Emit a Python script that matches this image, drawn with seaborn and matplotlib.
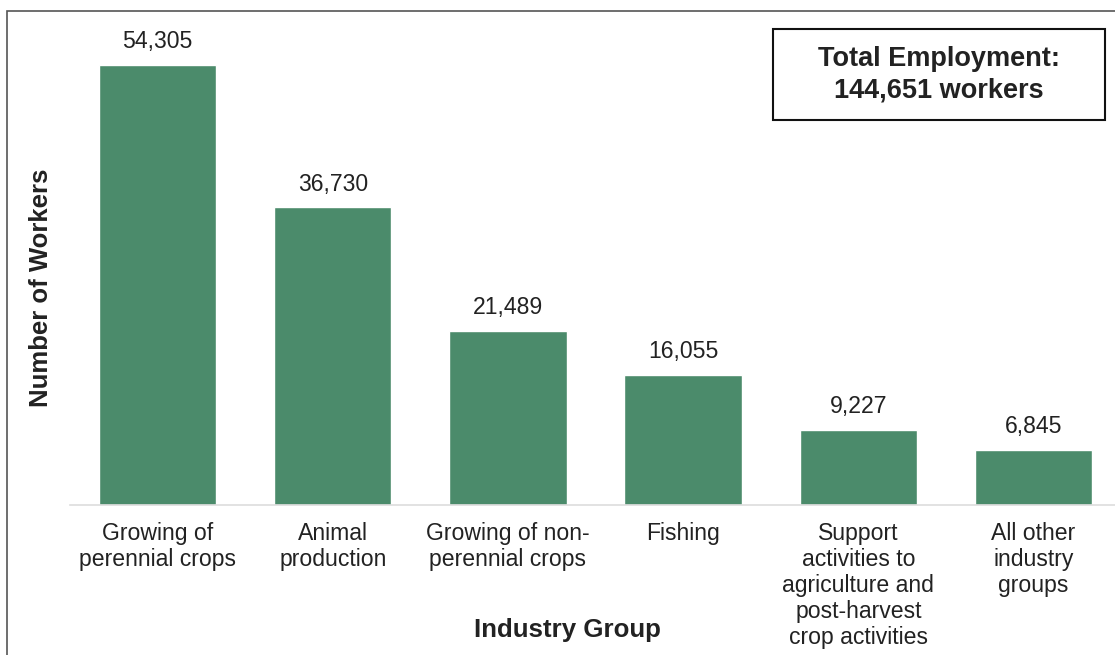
import matplotlib
matplotlib.use('Agg')
import matplotlib.pyplot as plt
from matplotlib.patches import Rectangle
import pandas as pd
import seaborn as sns

# dados do grafico
categorias = ['Growing of\nperennial crops', 'Animal\nproduction',
              'Growing of non-\nperennial crops', 'Fishing',
              'Support\nactivities to\nagriculture and\npost-harvest\ncrop activities',
              'All other\nindustry\ngroups']
trabalhadores = [54305, 36730, 21489, 16055, 9227, 6845]
total_texto = 'Total Employment:\n144,651 workers'

df = pd.DataFrame({'Grupo': categorias, 'Trabalhadores': trabalhadores})

sns.set_style('white')
plt.rcParams['font.family'] = ['Liberation Sans', 'DejaVu Sans']
cor_texto = '#222222'

fig = plt.figure(figsize=(11.15, 6.55), dpi=100)
ax = fig.add_axes([70 / 1115, 1 - 505 / 655, (1115 - 70) / 1115, 486 / 655])

sns.barplot(data=df, x='Grupo', y='Trabalhadores', color='#4b8b6b',
            saturation=1, width=0.67, ax=ax)

ax.set_xlim(-0.5, 5.465)
ax.set_ylim(0, 60000)
ax.set_yticks([])
ax.set_xlabel('')
ax.set_ylabel('')
for s in ['top', 'right', 'left']:
    ax.spines[s].set_visible(False)
ax.spines['bottom'].set_color('#dddddd')
ax.spines['bottom'].set_linewidth(1.2)

ax.tick_params(axis='x', length=0, pad=12)
for lbl in ax.get_xticklabels():
    lbl.set_fontsize(16.6)
    lbl.set_color(cor_texto)
    lbl.set_linespacing(1.17)

# rotulos de valor
for p, v in zip(ax.patches, trabalhadores):
    ax.annotate(f'{v:,}', (p.get_x() + p.get_width() / 2, p.get_height()),
                xytext=(0, 8.6), textcoords='offset points',
                ha='center', va='bottom', fontsize=16.6, color=cor_texto)

# titulos dos eixos
fig.text(41 / 1115, 1 - 288 / 655, 'Number of Workers', rotation=90,
         ha='center', va='center', fontsize=18.5, fontweight='bold', color=cor_texto)
fig.text(567 / 1115, 1 - 630 / 655, 'Industry Group',
         ha='center', va='center', fontsize=18.6, fontweight='bold', color=cor_texto)

# caixa do total
fig.patches.append(Rectangle((773 / 1115, 1 - 120 / 655), 332 / 1115, 91 / 655,
                             transform=fig.transFigure, fill=False,
                             edgecolor='#111111', linewidth=1.5))
fig.text(939 / 1115, 1 - 75 / 655, total_texto, ha='center', va='center',
         fontsize=19.5, fontweight='bold', color=cor_texto, linespacing=1.27)

# borda da figura
fig.patches.append(Rectangle((7 / 1115, -0.1), 1.2, 1.1 - 11 / 655,
                             transform=fig.transFigure, fill=False,
                             edgecolor='#555555', linewidth=1.2))

fig.savefig('out.png', dpi=100)
